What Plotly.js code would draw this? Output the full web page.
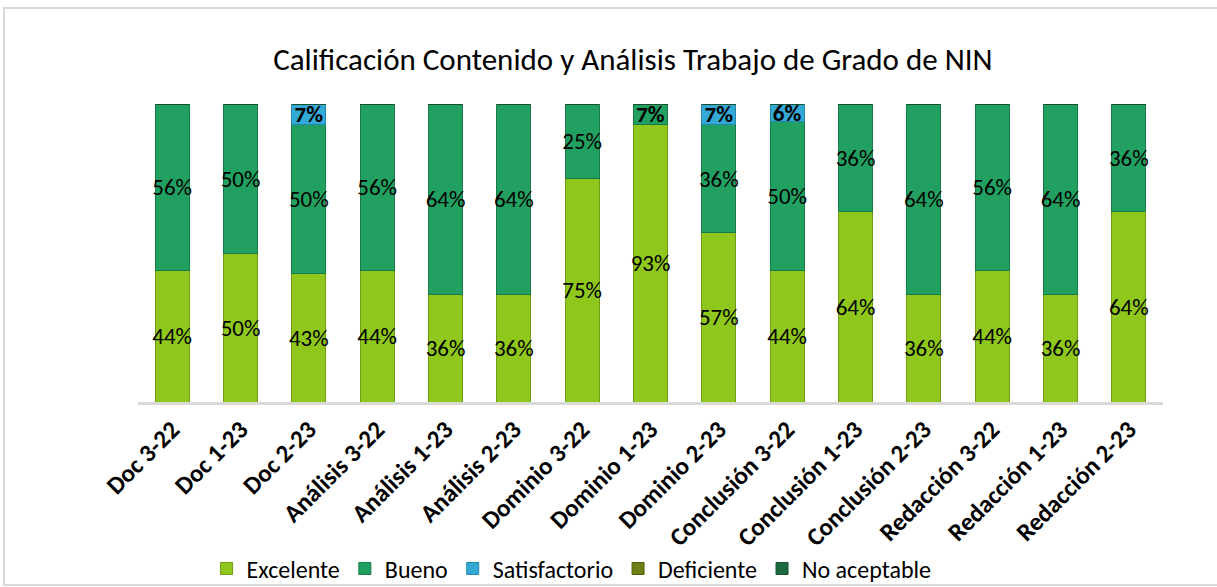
<!DOCTYPE html>
<html>
<head>
<meta charset="utf-8">
<script src="https://cdn.plot.ly/plotly-3.0.1.min.js"></script>
<style>
html,body{margin:0;padding:0;background:#fff;overflow:hidden;}
#chart{width:1217px;height:587px;position:absolute;left:0;top:0;}
#frame{position:absolute;left:3px;top:7px;width:1220px;height:579px;border:2px solid #d9d9d9;box-sizing:border-box;pointer-events:none;}
</style>
</head>
<body>
<div id="chart"></div>
<div id="frame"></div>
<script>
const categories = ["Doc 3-22","Doc 1-23","Doc 2-23","Análisis 3-22","Análisis 1-23","Análisis 2-23","Dominio 3-22","Dominio 1-23","Dominio 2-23","Conclusión 3-22","Conclusión 1-23","Conclusión 2-23","Redacción 3-22","Redacción 1-23","Redacción 2-23"];
const excelente     = [44,50,43,44,36,36,75,93,57,44,64,36,44,36,64];
const bueno         = [56,50,50,56,64,64,25, 7,36,50,36,64,56,64,36];
const satisfactorio = [ 0, 0, 7, 0, 0, 0, 0, 0, 7, 6, 0, 0, 0, 0, 0];
const deficiente    = [ 0, 0, 0, 0, 0, 0, 0, 0, 0, 0, 0, 0, 0, 0, 0];
const noAceptable   = [ 0, 0, 0, 0, 0, 0, 0, 0, 0, 0, 0, 0, 0, 0, 0];

const series = [
  {name:"Excelente", values:excelente, color:"#8fc71c", edge:"#6f9a12"},
  {name:"Bueno", values:bueno, color:"#21a061", edge:"#187a48"},
  {name:"Satisfactorio", values:satisfactorio, color:"#34a9d6", edge:"#2386ad"},
  {name:"Deficiente", values:deficiente, color:"#6b7f12", edge:"#4f5e0c"},
  {name:"No aceptable", values:noAceptable, color:"#1d6a40", edge:"#14502f"}
];

const fontFam = "Carlito, 'Liberation Sans Narrow', Lato, 'Open Sans', sans-serif";

const traces = series.map(s => ({
  type:"bar",
  name:s.name,
  x:categories,
  y:s.values,
  text:s.values.map(v => v ? (v < 10 ? "<b>"+v+"%</b>" : v+"%") : ""),
  textposition:"inside",
  insidetextanchor:"middle",
  constraintext:"none",
  textangle:0,
  textfont:{family:fontFam, size:23, color:"#000"},
  marker:{color:s.color, line:{color:s.edge, width:1}},
  hoverinfo:"x+y+name"
}));

const layout = {
  width:1217, height:587,
  paper_bgcolor:"rgba(0,0,0,0)",
  plot_bgcolor:"rgba(0,0,0,0)",
  barmode:"stack",
  bargap:0.5,
  margin:{l:138, r:54, t:104, b:185, autoexpand:false},
  title:{text:"Calificación Contenido y Análisis Trabajo de Grado de NIN", font:{family:fontFam, size:31, color:"#000"}, x:0.52, xanchor:"center", y:0.9, yanchor:"middle"},
  xaxis:{automargin:false, tickangle:-45, tickfont:{family:fontFam, size:25, color:"#000", weight:"bold"}, showline:true, linecolor:"#d9d9d9", linewidth:3, ticks:"", showgrid:false, zeroline:false},
  yaxis:{automargin:false, range:[0,100], visible:false, showgrid:false, zeroline:false},
  showlegend:true,
  legend:{orientation:"h", x:0.423, xanchor:"center", y:-0.56, yanchor:"middle", font:{family:fontFam, size:24, color:"#000"}, traceorder:"normal", itemwidth:30},
  font:{family:fontFam}
};

Plotly.newPlot("chart", traces, layout, {displayModeBar:false, staticPlot:true});
</script>
</body>
</html>
